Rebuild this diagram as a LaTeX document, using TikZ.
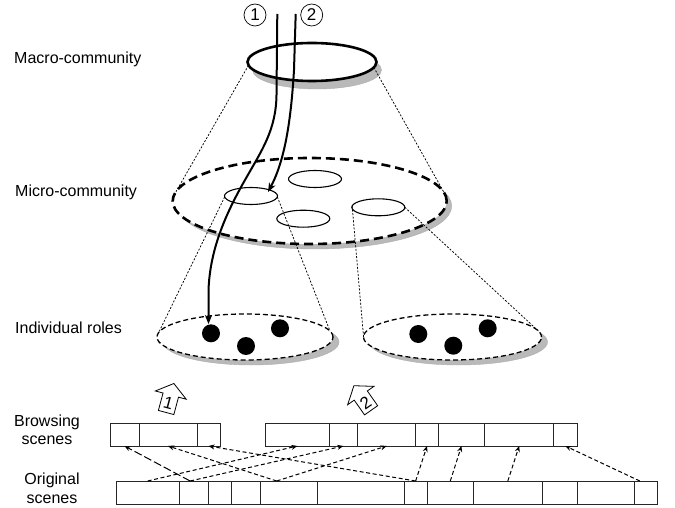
\documentclass[tikz,border=0pt]{standalone}
\usepackage{fontspec}
\setmainfont{Liberation Sans}
\usetikzlibrary{shapes.geometric,arrows.meta,calc}
\begin{document}
\begin{tikzpicture}[x=1pt,y=-1pt,
  lbl/.style={font=\fontsize{16}{18.4}\selectfont, inner sep=0pt},
  shadowst/.style={ellipse, inner sep=0pt, outer sep=0pt, fill=gray!55, draw=gray!65, line width=0.4pt},
  macrost/.style={ellipse, inner sep=0pt, outer sep=0pt, fill=white, draw=black, line width=2.6pt},
  microst/.style={ellipse, inner sep=0pt, outer sep=0pt, fill=white, draw=black, line width=2.6pt, dash pattern=on 9pt off 5pt},
  rolest/.style={ellipse, inner sep=0pt, outer sep=0pt, fill=white, draw=black, line width=1.3pt, dash pattern=on 5pt off 3pt},
  smallst/.style={ellipse, inner sep=0pt, outer sep=0pt, draw=black, line width=1.1pt, minimum width=53pt, minimum height=17pt},
  conest/.style={line width=0.75pt, dash pattern=on 2pt off 1.6pt},
  dotst/.style={circle, fill=black, inner sep=0pt, minimum size=18pt},
  curvest/.style={line width=2pt, -{Stealth[length=9pt,width=7pt,inset=2.5pt]}},
  numst/.style={draw, circle, minimum size=22pt, inner sep=0pt, line width=0.7pt, font=\fontsize{17}{17}\selectfont},
  cell/.style={draw=black!85, line width=0.9pt, rectangle, inner sep=0pt, outer sep=0pt, anchor=north west},
  darr/.style={line width=1pt, dash pattern=on 4pt off 2.6pt, -{Stealth[length=6pt,width=5pt]}},
  darrlong/.style={line width=1pt, dash pattern=on 8pt off 3pt, -{Stealth[length=6pt,width=5pt]}},
  blockst/.style={line width=0.8pt, draw=black, fill=white}
]
\useasboundingbox (0,0) rectangle (675,508);

% shadows
\node[shadowst, minimum width=129pt, minimum height=38pt] (macsh) at (317,70) {};
\node[shadowst, minimum width=274pt, minimum height=86pt] (micsh) at (314.7,206) {};
\node[shadowst, minimum width=176pt, minimum height=46pt] (rlsh) at (251,342) {};
\node[shadowst, minimum width=178pt, minimum height=46pt] (rrsh) at (458.5,342) {};

% main ellipses
\node[macrost, minimum width=129pt, minimum height=38pt] (mac) at (312,62) {};
\node[microst, minimum width=274pt, minimum height=86pt] (mic) at (309.7,201) {};
\node[rolest, minimum width=176pt, minimum height=46pt] (rl) at (245,337) {};
\node[rolest, minimum width=178pt, minimum height=46pt] (rr) at (452.5,337) {};

% small ellipses
\node[smallst] (e1) at (251,196) {};
\node[smallst] (e2) at (315,179) {};
\node[smallst] (e3) at (303.3,218.7) {};
\node[smallst] (e4) at (378.3,207.3) {};

% cones
\draw[conest] (mac.183.5) -- (mic.176.5);
\draw[conest] (mac.-5) -- (mic.3.9);
\draw[conest] (e1.182) -- (rl.177.4);
\draw[conest] (e1.-2) -- (rl.4.6);
\draw[conest] (e4.177) -- (rr.181);
\draw[conest] (e4.0.5) -- (rr.4.5);

% dots
\node[dotst] (d1) at (211,333.3) {};
\node[dotst] (d2) at (246,346) {};
\node[dotst] (d3) at (280,328.3) {};
\node[dotst] (d4) at (418.3,334) {};
\node[dotst] (d5) at (453.3,345.7) {};
\node[dotst] (d6) at (487.7,328.3) {};

% numbered paths
\node[numst] (n1) at (255,15) {1};
\node[numst] (n2) at (311.7,15) {2};
\coordinate (s1) at (277.3,14);
\coordinate (s2) at (295.7,14);
\draw[curvest] (s1) -- (276.5,95) .. controls (276,130) and (262,150) .. (245,180)
   .. controls (225,215) and (210,250) .. (208.5,290) -- ([xshift=-2.5pt]d1.north);
\draw[curvest] (s2) -- (294,70) .. controls (291,120) and (285,160) .. ([xshift=17pt,yshift=4pt]e1.center);

% block arrows
\begin{scope}[shift={(170,398)}, rotate=-15]
  \draw[blockst] (-8,15) -- (8,15) -- (8,-3) -- (16,-3) -- (0,-15) -- (-16,-3) -- (-8,-3) -- cycle;
  \node[transform shape, font=\fontsize{17}{17}\selectfont, inner sep=0pt] (ba1) at (0,5.5) {1};
\end{scope}
\begin{scope}[shift={(362.5,398)}, rotate=35]
  \draw[blockst] (-8,15) -- (8,15) -- (8,-3) -- (16,-3) -- (0,-15) -- (-16,-3) -- (-8,-3) -- cycle;
  \node[transform shape, font=\fontsize{17}{17}\selectfont, inner sep=0pt] (ba2) at (0,5.5) {2};
\end{scope}

% browsing scenes
\foreach \a/\b [count=\i] in {110/139,139/197,197/220}
  \node[cell, minimum width=\b-\a, minimum height=22.7pt] (bl\i) at (\a,423.3) {};
\foreach \a/\b [count=\i] in {265.7/329,329/357.7,357.7/415.7,415.7/438.3,438.3/484.7,484.7/553.7,553.7/577}
  \node[cell, minimum width=\b-\a, minimum height=22.7pt] (br\i) at (\a,423.3) {};
% original scenes
\foreach \a/\b [count=\i] in {116/179.3,179.3/208,208/231.7,231.7/260.3,260.3/317.7,317.7/404,404/427.3,427.3/473.3,473.3/542.3,542.3/577,577/634.3,634.3/657.3}
  \node[cell, minimum width=\b-\a, minimum height=23.3pt] (o\i) at (\a,481) {};

% mapping arrows
\draw[darrlong] ([xshift=-3.5pt]o2.north) -- (bl1.south);
\draw[darr] ([xshift=-12.3pt]o5.north) -- (bl2.south);
\draw[darr] (o7.north) -- (bl3.south);
\draw[darr] (o1.north) -- (br1.south);
\draw[darr] ([xshift=-3.5pt]o2.north) -- (br2.south);
\draw[darr] ([xshift=-12.3pt]o5.north) -- (br3.south);
\draw[darr] (o7.north) -- (br4.south);
\draw[darr] (o8.north) -- (br5.south);
\draw[darr] (o9.north) -- (br6.south);
\draw[darr] ([xshift=-6pt]o12.north) -- (br7.south);

% labels
\node[lbl, anchor=base west] (tmac) at (14,63.3) {Macro-community};
\node[lbl, anchor=base west] (tmic) at (15,196.7) {Micro-community};
\node[lbl, anchor=base west] (tind) at (15,333.3) {Individual roles};
\node[lbl, align=center] (tbro) at (47,430) {Browsing\\scenes};
\node[lbl, align=center] (tori) at (52,488.3) {Original\\scenes};
\end{tikzpicture}
\end{document}
